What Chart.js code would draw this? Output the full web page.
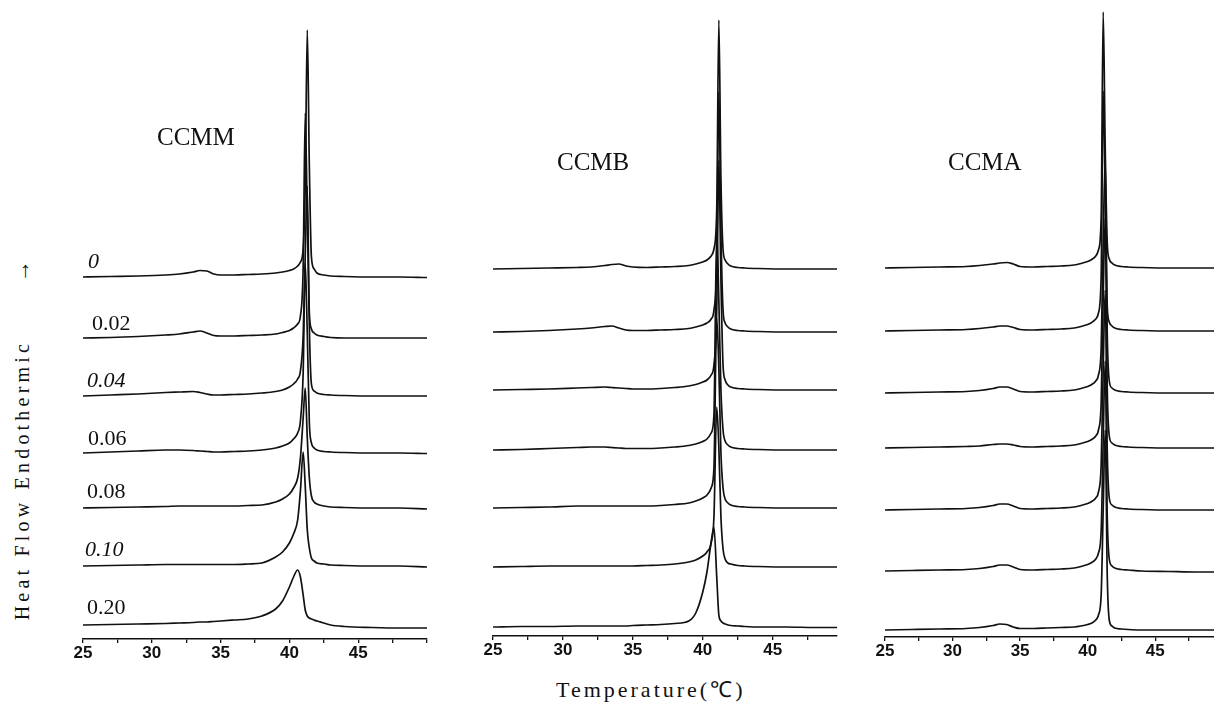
<!DOCTYPE html>
<html>
<head>
<meta charset="utf-8">
<script src="https://cdn.jsdelivr.net/npm/chart.js@4.4.1/dist/chart.umd.min.js"></script>
<style>
  body { margin: 0; width: 1214px; height: 707px; background: #fff; overflow: hidden; position: relative; }
  canvas { position: absolute; top: 0; }
  .lbl { position: absolute; font-family: "Liberation Serif", serif; color: #111; white-space: nowrap; line-height: 1; }
  .ttl { font-size: 25px; }
  .trc { font-size: 22px; }
  .it { font-style: italic; }
</style>
</head>
<body>
<canvas id="ccmm"></canvas>
<canvas id="ccmb"></canvas>
<canvas id="ccma"></canvas>

<div class="lbl ttl" style="left:157px;top:124px">CCMM</div>
<div class="lbl ttl" style="left:557px;top:149px">CCMB</div>
<div class="lbl ttl" style="left:948px;top:149px">CCMA</div>

<div class="lbl" style="font-size:20px;letter-spacing:4.2px;left:22px;top:438px;transform:translate(-50%,-50%) rotate(-90deg)">Heat Flow Endothermic<span style="margin-left:58px;font-size:22px">→</span></div>
<div class="lbl" style="font-size:22px;letter-spacing:3px;left:556px;top:679px">Temperature(℃)</div>

<div id="traceLabels"></div>

<script>
// temperature grid (℃), shared by all traces
const temps = [25, 27, 29, 31, 32, 33, 33.5, 34, 34.5, 35, 36, 37, 38, 39, 39.5, 40, 40.3, 40.6, 40.8, 41, 41.15, 41.3, 41.45, 41.6, 41.8, 42, 42.5, 43, 44, 46, 48, 50]

const sampleNames = ['0', '0.02', '0.04', '0.06', '0.08', '0.10', '0.20']
const tickLabels = [25, 30, 35, 40, 45]

// CCMM heat flow (arb. units above each baseline)
const ccmm0  = [0, 0.5, 1, 2, 3, 5, 6.5, 6, 3, 2, 2, 2.5, 3, 4, 5, 6.5, 8, 11, 15, 28, 90, 247, 110, 20, 8, 4, 2, 1, 0.5, 0, 0, -0.5]
const ccmm02 = [0, 0.5, 1.5, 3, 4, 6, 7, 5, 2.5, 2, 2, 2.5, 3, 4, 5.5, 7.5, 10, 14, 22, 70, 225, 120, 25, 9, 5, 3, 1.5, 0.5, 0, 0, 0, 0]
const ccmm04 = [0, 1, 2, 3.5, 4, 4.5, 3.5, 2, 1, 1, 1.5, 2, 3, 4.5, 6, 9, 12, 17, 25, 60, 140, 210, 70, 12, 5, 3, 1.5, 1, 0.5, 0, 0, 0]
const ccmm06 = [0, 1, 2, 3, 3, 2.5, 2, 1.5, 1, 1, 1.5, 2, 3, 5, 7, 10, 14, 20, 32, 80, 190, 120, 30, 10, 5, 3, 1.5, 1, 0.5, 0, 0, -0.5]
const ccmm08 = [0, 0.5, 1, 1.5, 2, 2, 2, 2, 2, 2, 2, 2.5, 3, 6, 9, 14, 20, 30, 50, 90, 120, 70, 30, 12, 6, 4, 2, 1, 0.5, 0, 0, -1]
const ccmm10 = [0, 0.5, 1, 1.5, 1.5, 1.5, 1.5, 1.5, 1.5, 1.5, 1.5, 2, 3, 9, 14, 23, 32, 46, 75, 114, 80, 36, 18, 8, 5, 3, 2, 1, 0.5, 0, 0, -1]
const ccmm20 = [0, 0.5, 1, 1.5, 2, 2.5, 3, 3, 3.5, 4, 5, 6, 9, 16, 24, 38, 48, 55, 48, 30, 15, 9, 7, 6, 5, 4, 2, 0, -1.5, -2.5, -3, -3]
const ccmmShift = [362, 301, 243, 186, 131, 73, 14]

// CCMB
const ccmb0  = [0, 0.5, 1, 1.5, 2, 3.5, 4.5, 5, 3, 2, 1.5, 2, 2.5, 3.5, 5, 7, 9, 13, 20, 60, 249, 90, 20, 9, 5, 3, 1.5, 1, 0.5, 0, 0, 0]
const ccmb02 = [0, 0.5, 1.5, 3, 4, 5.5, 6, 4, 2, 1.5, 1.5, 2, 2.5, 3.5, 5, 7, 9, 13, 22, 70, 240, 100, 22, 9, 5, 3, 1.5, 1, 0.5, 0, 0, 0]
const ccmb04 = [0, 0.5, 1, 2, 2.5, 3, 2.5, 2, 1.5, 1, 1, 1.5, 2.5, 4, 5.5, 8, 10, 15, 25, 80, 230, 110, 25, 10, 5, 3, 1.5, 1, 0.5, 0, 0, 0]
const ccmb06 = [0, 0.5, 1.5, 2.5, 3, 3, 2.5, 2, 1.5, 1.5, 1.5, 2, 3, 4.5, 6, 8.5, 11, 17, 35, 220, 150, 60, 20, 9, 5, 3, 1.5, 1, 0.5, 0, 0, 0]
const ccmb08 = [0, 0.5, 1, 2, 2, 2, 2, 2, 2, 2, 2, 2.5, 3.5, 5, 7, 10, 13, 20, 40, 190, 140, 55, 20, 9, 5, 3, 1.5, 1, 0.5, 0, 0, 0]
const ccmb10 = [0, 0.5, 1, 1, 1, 1, 1, 1, 1, 1, 1.5, 2, 3, 5, 7, 11, 15, 24, 50, 160, 120, 50, 18, 8, 4, 3, 1.5, 1, 0.5, 0, 0, 0]
const ccmb20 = [0, 0.5, 0.5, 1, 1, 1, 1, 1, 1, 1.5, 2, 2.5, 3.5, 6, 14, 35, 55, 85, 100, 50, 12, 6, 4, 3, 2, 1.5, 1, 0.5, 0, 0, -0.5, -0.5]
const ccmbShift = [367, 304, 246, 186, 128, 69, 9]

// CCMA
const ccma0  = [0, 0.5, 1, 1.5, 2.5, 4, 5, 5.5, 4, 1.5, 1, 1.5, 2, 3, 4.5, 6.5, 8.5, 12, 18, 50, 256, 120, 25, 9, 5, 3, 1.5, 1, 0.5, 0, 0, 0]
const ccma02 = [0, 0.5, 1, 1.5, 2.5, 4, 5, 5, 3.5, 1.5, 1, 1.5, 2, 3, 4.5, 6.5, 8.5, 12, 18, 55, 240, 130, 25, 9, 5, 3, 1.5, 1, 0.5, 0, 0, 0]
const ccma04 = [0, 0.5, 1, 1.5, 2.5, 4.5, 6, 6, 4, 1.5, 1, 1.5, 2, 3, 4.5, 6.5, 8.5, 12, 18, 45, 150, 235, 60, 12, 5, 3, 1.5, 1, 0.5, 0, 0, 0]
const ccma06 = [0, 0.5, 1, 1.5, 2, 3.5, 4, 4, 3, 1.5, 1, 1.5, 2, 3, 4.5, 6.5, 8.5, 12, 18, 45, 150, 230, 60, 12, 5, 3, 1.5, 1, 0.5, 0, 0, 0]
const ccma08 = [0, 0.5, 1, 1.5, 2.5, 4.5, 6, 6, 4, 1.5, 1, 1.5, 2, 3, 4.5, 6.5, 8.5, 12, 18, 45, 140, 220, 60, 12, 5, 3, 1.5, 1, 0.5, 0, 0, 0]
const ccma10 = [0, 0.5, 1, 1.5, 2.5, 4.5, 6, 6, 4, 1.5, 1, 1.5, 2, 3, 4.5, 6.5, 8.5, 12, 18, 40, 130, 210, 55, 12, 5, 3, 1.5, 1, 0, -0.5, -1, -1]
const ccma20 = [0, 0.5, 1, 1.5, 2.5, 4.5, 6, 5.5, 3, 1.5, 1.5, 2, 2.5, 3, 4, 5.5, 7, 10, 15, 35, 120, 200, 55, 10, 4, 2, 1, 0.5, 0, 0, 0, 0]
const ccmaShift = [369, 306, 244, 189, 127, 66, 7]

// panel placement on the page
const panels = [
  {id: 'ccmm', curves: [ccmm0, ccmm02, ccmm04, ccmm06, ccmm08, ccmm10, ccmm20], shift: ccmmShift, x25: 83, pxPerDeg: 13.75, xMax: 50, axisY: 639},
  {id: 'ccmb', curves: [ccmb0, ccmb02, ccmb04, ccmb06, ccmb08, ccmb10, ccmb20], shift: ccmbShift, x25: 493, pxPerDeg: 14, xMax: 49.6, axisY: 636},
  {id: 'ccma', curves: [ccma0, ccma02, ccma04, ccma06, ccma08, ccma10, ccma20], shift: ccmaShift, x25: 885, pxPerDeg: 13.5, xMax: 49.5, axisY: 637},
]

const PAD = 20
const AXIS_H = 30

makePanel = (p) => {
  const cv = document.getElementById(p.id)
  const w = Math.round((p.xMax - 25) * p.pxPerDeg) + PAD * 2
  cv.width = w
  cv.height = p.axisY + AXIS_H
  cv.style.left = (p.x25 - PAD) + 'px'

  new Chart(cv, {
    type: 'line',
    data: {
      datasets: p.curves.map((c, i) => ({
        label: sampleNames[i],
        data: temps.map((t, j) => ({x: t, y: c[j] + p.shift[i]})),
        borderColor: '#111',
        borderWidth: 1.7,
        pointRadius: 0,
        fill: false,
        cubicInterpolationMode: 'monotone'
      }))
    },
    options: {
      responsive: false,
      animation: false,
      layout: {padding: {left: PAD, right: PAD, top: 0, bottom: 0}},
      plugins: {legend: {display: false}, tooltip: {enabled: false}},
      scales: {
        x: {
          type: 'linear',
          min: 25,
          max: p.xMax,
          afterFit: (s) => { s.height = AXIS_H },
          border: {color: '#111', width: 1.4},
          grid: {drawOnChartArea: false, color: '#111', tickLength: 4, lineWidth: 1.3},
          ticks: {
            stepSize: 2.5,
            includeBounds: false,
            autoSkip: false,
            maxRotation: 0,
            padding: 0,
            color: '#111',
            font: {family: 'Liberation Sans', size: 17, weight: 'bold'},
            callback: (v) => tickLabels.includes(v) ? String(v) : ''
          }
        },
        y: {display: false, min: 0, max: p.axisY}
      }
    }
  })
}

panels.forEach(makePanel)

// sample labels beside CCMM curves
const labelPos = [[88, 250, true], [92, 312, false], [87, 369, true], [88, 427, false], [87, 480, false], [85, 538, true], [87, 596, false]]
let html = ''
for (let i = 0; i < sampleNames.length; i++) {
  const [x, y, ital] = labelPos[i]
  html += `<div class="lbl trc${ital ? ' it' : ''}" style="left:${x}px;top:${y}px">${sampleNames[i]}</div>`
}
document.getElementById('traceLabels').innerHTML = html
</script>
</body>
</html>
